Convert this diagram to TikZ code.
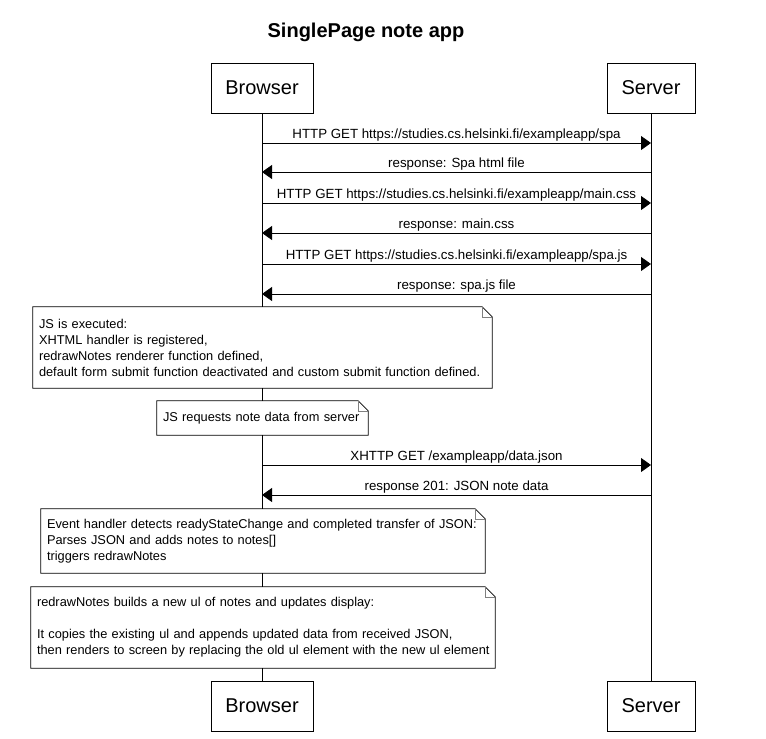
\documentclass[tikz,border=0pt]{standalone}
\usepackage{fontspec}
\setmainfont{Liberation Sans}
\usetikzlibrary{arrows.meta,calc}
\begin{document}
\begin{tikzpicture}[x=1pt,y=-1pt,
  actor/.style={draw, line width=0.8pt, font=\fontsize{20}{24}\selectfont, minimum height=50pt, inner sep=0pt},
  msg/.style={-{Triangle[length=10pt,width=14pt]}, line width=0.8pt},
  lbl/.style={font=\fontsize{13.3}{16}\selectfont, above=1pt, midway, inner sep=0pt},
  notebox/.style={fill=white, font=\fontsize{12.8}{16}\selectfont, align=left, inner xsep=6pt, inner ysep=0pt},
  noteline/.style={line width=0.8pt},
  foldline/.style={line width=0.6pt, gray},
  life/.style={line width=0.8pt}]
\useasboundingbox (0,0) rectangle (766,739);

\node[font=\bfseries\fontsize{20}{24}\selectfont] (title) at (366,32) {SinglePage note app};

\node[actor, minimum width=102pt] (bt) at (262,88) {Browser};
\node[actor, minimum width=88pt] (st) at (651,88) {Server};
\node[actor, minimum width=102pt] (bb) at (262,706) {Browser};
\node[actor, minimum width=88pt] (sb) at (651,706) {Server};

\draw[life] (bt.south) -- (bb.north);
\draw[life] (st.south) -- (sb.north);

\foreach \n/\y in {1/143,2/172,3/203,4/233,5/264,6/294,7/465,8/495}{
  \coordinate (b\n) at (262,\y);
  \coordinate (s\n) at (651,\y);
}

\draw[msg] (b1) -- (s1) node[lbl] {HTTP GET https://studies.cs.helsinki.fi/exampleapp/spa};
\draw[msg] (s2) -- (b2) node[lbl] {response: Spa html file};
\draw[msg] (b3) -- (s3) node[lbl] {HTTP GET https://studies.cs.helsinki.fi/exampleapp/main.css};
\draw[msg] (s4) -- (b4) node[lbl] {response: main.css};
\draw[msg] (b5) -- (s5) node[lbl] {HTTP GET https://studies.cs.helsinki.fi/exampleapp/spa.js};
\draw[msg] (s6) -- (b6) node[lbl] {response: spa.js file};
\draw[msg] (b7) -- (s7) node[lbl] {XHTTP GET /exampleapp/data.json};
\draw[msg] (s8) -- (b8) node[lbl] {response 201: JSON note data};

\newcommand{\notefold}[1]{%
  \draw[noteline] (#1.north west) -- ($(#1.north east)+(-10,0)$) -- ($(#1.north east)+(0,10)$) -- (#1.south east) -- (#1.south west) -- cycle;
  \draw[foldline] ($(#1.north east)+(-10,0)$) -- ($(#1.north east)+(-10,10)$) -- ($(#1.north east)+(0,10)$);
}

\node[notebox, minimum width=459pt, minimum height=81pt, text width=447pt] (n1) at (262.5,347.5)
  {\mbox{JS is executed:}\\\mbox{XHTML handler is registered,}\\\mbox{redrawNotes renderer function defined,}\\\mbox{default form submit function deactivated and custom submit function defined.}};
\notefold{n1}

\node[notebox, minimum width=211pt, minimum height=34pt, text width=199pt] (n2) at (262.5,418)
  {\mbox{JS requests note data from server}};
\notefold{n2}

\node[notebox, minimum width=444pt, minimum height=64pt, text width=432pt] (n3) at (263,541)
  {\mbox{Event handler detects readyStateChange and completed transfer of JSON:}\\\mbox{Parses JSON and adds notes to notes[]}\\\mbox{triggers redrawNotes}};
\notefold{n3}

\node[notebox, minimum width=464pt, minimum height=81pt, text width=452pt] (n4) at (263,627.5)
  {\mbox{redrawNotes builds a new ul of notes and updates display:}\\\mbox{}\\\mbox{It copies the existing ul and appends updated data from received JSON,}\\\mbox{then renders to screen by replacing the old ul element with the new ul element}};
\notefold{n4}
\end{tikzpicture}
\end{document}
